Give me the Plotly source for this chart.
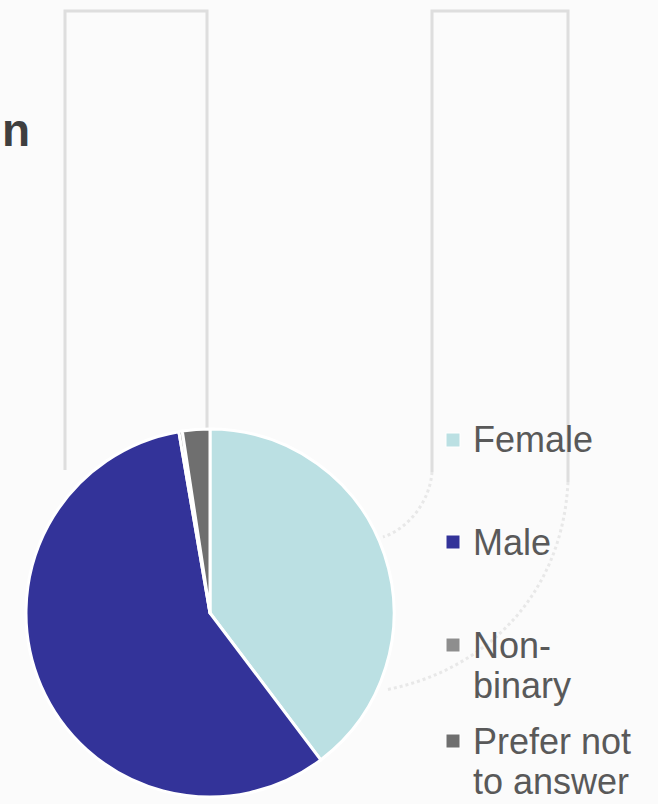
import plotly.graph_objects as go

# data
labels = ['Female', 'Male', 'Non-binary', 'Prefer not to answer']
values = [39.6, 57.4, 0.3, 2.4]
colors = ['#bbe0e3', '#333399', '#8e8e8e', '#6f6f6f']
legend_lines = [['Female'], ['Male'], ['Non-', 'binary'], ['Prefer not', 'to answer']]

W, H = 658, 804
FONT = 'Liberation Sans, Arial, Helvetica, sans-serif'
TEXT = '#595959'


def px(x):
    return x / W


def py(y):
    return 1 - y / H


# pie geometry (pixels)
cx, cy, r = 210, 613, 184

fig = go.Figure(go.Pie(
    labels=labels,
    values=values,
    marker=dict(colors=colors, line=dict(color='white', width=3)),
    sort=False,
    direction='clockwise',
    rotation=0,
    textinfo='none',
    hoverinfo='label+percent',
    showlegend=False,
    domain=dict(x=[px(cx - r), px(cx + r)], y=[py(cy + r), py(cy - r)]),
))

# background decoration (slide artwork)
shapes = [
    dict(type='path', xref='paper', yref='paper', layer='below',
         path=f'M {px(65)} {py(470)} L {px(65)} {py(11)} L {px(207)} {py(11)} L {px(207)} {py(470)}',
         line=dict(color='#dedede', width=3)),
    dict(type='path', xref='paper', yref='paper', layer='below',
         path=f'M {px(432)} {py(472)} L {px(432)} {py(11)} L {px(568)} {py(11)} L {px(568)} {py(482)}',
         line=dict(color='#dedede', width=3)),
    dict(type='path', xref='paper', yref='paper', layer='below',
         path=f'M {px(568)} {py(482)} C {px(562)} {py(600)} {px(480)} {py(672)} {px(385)} {py(690)}',
         line=dict(color='#e8e8e8', width=3, dash='dot')),
    dict(type='path', xref='paper', yref='paper', layer='below',
         path=f'M {px(432)} {py(472)} C {px(430)} {py(500)} {px(410)} {py(528)} {px(383)} {py(537)}',
         line=dict(color='#e8e8e8', width=3, dash='dot')),
]

# manual legend
legend_y = [440, 542, 645, 741]
line_gap = 40
annotations = []
for lines, col, y0 in zip(legend_lines, colors, legend_y):
    shapes.append(dict(type='rect', xref='paper', yref='paper',
                       x0=px(446), x1=px(460), y0=py(y0 + 7), y1=py(y0 - 7),
                       fillcolor=col, line=dict(color='white', width=1)))
    for i, t in enumerate(lines):
        annotations.append(dict(text=t, xref='paper', yref='paper',
                                x=px(471), y=py(y0 + i * line_gap),
                                xanchor='left', yanchor='middle', showarrow=False,
                                font=dict(family=FONT, size=36, color=TEXT)))

# clipped title fragment
annotations.append(dict(text='<b>n</b>', xref='paper', yref='paper',
                        x=px(0), y=py(130), xanchor='left', yanchor='middle',
                        showarrow=False,
                        font=dict(family=FONT, size=46, color='#3f3f3f')))

fig.update_layout(
    width=W, height=H,
    margin=dict(l=0, r=0, t=0, b=0),
    paper_bgcolor='#fbfbfb',
    plot_bgcolor='#fbfbfb',
    shapes=shapes,
    annotations=annotations,
)

fig.write_html('out.html', config={'displayModeBar': False},
               post_script="document.body.style.margin='0px';")
